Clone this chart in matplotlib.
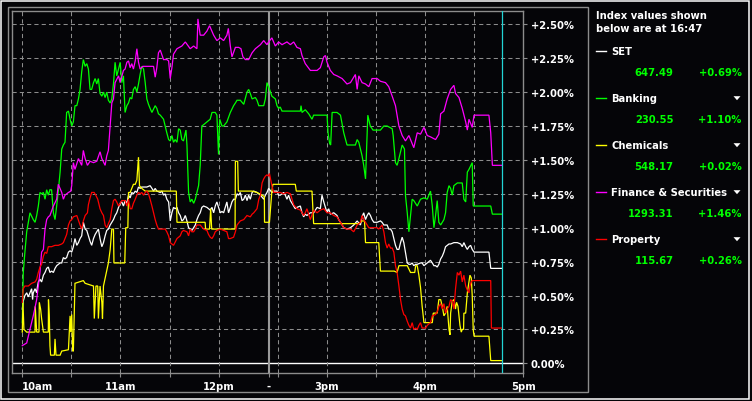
import matplotlib
matplotlib.use("Agg")
import matplotlib.pyplot as plt
from matplotlib.patches import Rectangle, Polygon
from matplotlib.lines import Line2D

# ---------------- data ----------------
# times: AM = minutes after 10:00, PM = minutes after 14:30 ; values = % change
SET_AM = [(0,0.40),(0.6,0.46),(1.6,0.50),(2.7,0.52),(3.7,0.49),(4.7,0.52),(5.7,0.55),(6.3,0.47),(6.7,0.52),(7.8,0.55),
          (8.8,0.52),(9.2,0.56),(9.8,0.60),(10.8,0.62),(11.8,0.60),(12.9,0.65),(13.9,0.67),(14.9,0.70),(15.9,0.71),(16.9,0.67),
          (17.9,0.68),(19,0.67),(20,0.70),(21,0.72),(22,0.73),(23.1,0.74),(24.1,0.74),(25.1,0.78),(26.1,0.77),(27.1,0.78),
          (28.2,0.82),(29.2,0.83),(30.2,0.82),(31.2,0.86),(32.2,0.92),(33.3,0.87),(34.3,0.89),(35.3,0.92),(36.3,0.94),(37.3,1.04),
          (38.4,0.99),(39.4,0.98),(40.4,0.94),(41.4,0.90),(42.4,0.87),(43.5,0.92),(44.5,0.95),(45.5,0.97),(46.5,0.99),(47.5,0.92),
          (48.6,0.86),(49.6,0.89),(50.6,0.94),(51.6,0.98),(52.6,0.99),(53.7,1.02),(54.7,1.04),(55.7,1.06),(56.7,1.09),(57.7,1.11),
          (58.8,1.15),(59.8,1.18),(60.8,1.19),(61.8,1.16),(62.8,1.20),(63.9,1.18),(64.9,1.24),(65.9,1.22),(66.9,1.26),(67.9,1.25),
          (69,1.27),(70,1.26),(71,1.30),(72,1.29),(73,1.30),(76.1,1.30),(78.1,1.31),(79.2,1.29),(80.2,1.27),(81.2,1.29),
          (82.2,1.27),(84.3,1.26),(85.3,1.27),(86.3,1.24),(87.3,1.25),(88.3,1.21),(89.4,1.19),(90.4,1.05),(91.4,1.11),(92.4,1.15),
          (93.4,1.14),(94.5,1.15),(95.5,1.11),(96.5,1.09),(97.5,1.05),(98.5,1.06),(99.6,1.09),(100.6,1.05),(101.6,1.00),(102.6,0.99),
          (103.6,0.98),(104.7,1.00),(105.7,1.02),(106.7,1.06),(107.7,1.09),(108.7,1.11),(109.7,1.15),(110.8,1.16),(112.8,1.15),(113.8,1.14),
          (114.8,1.13),(115.9,1.15),(116.9,1.11),(117.9,1.16),(118.9,1.19),(119.9,1.15),(121,1.11),(122,1.12),(123,1.11),(124,1.15),
          (125,1.19),(126,1.11),(127.1,1.15),(128.1,1.19),(129.1,1.21),(130.2,1.21),(131.2,1.25),(132.2,1.24),(133.2,1.26),(134.3,1.20),
          (135.3,1.21),(136.3,1.24),(137.3,1.20),(138.3,1.24),(139.3,1.21),(140.4,1.26),(141.4,1.27),(143.4,1.26),(145.5,1.24),(147.5,1.21),
          (148.5,1.24),(149.5,1.26),(150.5,1.29)]
SET_PM = [(-3.5,1.26),(-2.4,1.27),(-0.4,1.27),(0.6,1.24),(1.6,1.24),(3.7,1.26),(4.7,1.24),(5.7,1.21),(6.7,1.24),(7.8,1.20),
          (8.8,1.18),(9.8,1.16),(10.8,1.14),(11.8,1.15),(13.9,1.16),(14.9,1.11),(15.9,1.08),(16.9,1.10),(17.9,1.09),(20,1.11),
          (22,1.11),(24.1,1.15),(26.1,1.14),(27.1,1.24),(28.2,1.19),(29.2,1.15),(30.2,1.11),(31.2,1.14),(32.2,1.10),(34.3,1.11),
          (36.3,1.09),(37.3,1.06),(38.4,1.04),(39.4,1.02),(40.4,1.00),(42.4,0.99),(44.5,1.00),(46.5,1.02),(48.6,1.05),(50.6,1.02),
          (51.6,1.08),(52.6,1.11),(53.7,1.06),(54.7,1.09),(55.7,1.11),(56.7,1.09),(57.7,1.06),(58.8,1.04),(60.8,1.04),(62.8,1.05),
          (63.8,1.04),(64.9,1.02),(66.9,1.02),(67.9,0.99),(69,0.99),(70,0.97),(71,0.92),(72,0.87),(73,0.84),(74.1,0.84),
          (75.1,0.89),(76.1,0.93),(77.1,0.89),(78.1,0.82),(79.2,0.74),(80.2,0.73),(81.2,0.73),(82.2,0.74),(83.2,0.72),(84.3,0.73),
          (85.3,0.73),(87.3,0.74),(88.3,0.74),(89.4,0.72),(90.4,0.73),(91.4,0.74),(93.4,0.76),(94.5,0.74),(95.5,0.72),(96.5,0.72),
          (97.5,0.71),(98.5,0.73),(99.6,0.77),(100.6,0.79),(101.6,0.82),(102.6,0.86),(103.6,0.87),(104.7,0.88),(105.7,0.88),(107.7,0.89),
          (109.8,0.89),(111.8,0.88),(112.8,0.86),(113.8,0.89),(114.9,0.86),(115.9,0.84),(116.9,0.86),(117.9,0.87),(118.9,0.84),(120,0.82),
          (129.1,0.82),(130.2,0.70),(136.9,0.70)]

BANK_AM = [(0,0.30),(0.6,0.67),(1.6,0.82),(2.7,0.97),(4.7,1.11),(6.7,1.06),(7.8,1.04),(8.8,1.09),(9.8,1.16),(10.8,1.26),
           (11.8,1.25),(12.9,1.26),(13.9,1.21),(14.9,1.28),(15.9,1.24),(16.9,1.28),(17.9,1.28),(19,1.11),(20,1.06),(21,1.16),
           (22,1.27),(23.1,1.41),(24.1,1.58),(25.1,1.61),(26.1,1.63),(27.1,1.85),(28.2,1.86),(29.2,1.80),(30.2,1.75),(31.2,1.78),
           (32.2,1.90),(33.3,1.90),(34.3,1.95),(35.3,2.02),(36.3,2.15),(37.3,2.24),(38.4,2.19),(39.4,2.21),(40.4,2.17),(41.4,2.02),
           (42.4,2.02),(43.5,2.07),(44.5,2.10),(45.5,2.06),(46.5,2.10),(47.5,1.99),(48.6,1.97),(49.6,2.00),(50.6,1.96),(51.6,2.00),
           (52.6,1.94),(53.7,1.92),(54.7,1.95),(55.7,2.06),(56.7,2.22),(57.7,2.12),(58.8,2.17),(59.8,2.22),(60.8,2.07),(61.8,2.12),
           (62.8,1.85),(63.9,1.90),(64.9,1.92),(65.9,1.96),(66.9,1.95),(67.9,2.02),(69,2.04),(70,2.00),(71,2.06),(72,2.13),
           (73,2.19),(74.1,2.17),(75.1,2.07),(76.1,1.95),(77.1,1.91),(78.1,1.88),(79.2,1.85),(81.2,1.90),(82.2,1.88),(83.2,1.84),
           (84.3,1.83),(86.3,1.80),(87.3,1.75),(88.3,1.70),(89.4,1.65),(90.4,1.64),(91.4,1.68),(92.4,1.63),(93.4,1.65),(94.5,1.63),
           (95.5,1.73),(96.5,1.72),(97.5,1.65),(98.5,1.64),(100,1.72),(100.6,1.61),(101.6,1.26),(102.6,1.19),(103.6,1.21),(104.7,1.18),
           (105.7,1.21),(106.7,1.26),(107.7,1.31),(108.7,1.46),(109.7,1.75),(110.8,1.76),(112.8,1.78),(114.8,1.80),(115.9,1.85),(117.9,1.85),
           (118.9,1.83),(119.9,1.54),(120.6,1.80),(122,1.75),(123,1.75),(125,1.78),(127.1,1.85),(129.1,1.90),(130.2,1.92),(131.2,1.94),
           (133.2,1.94),(135.3,1.91),(137.3,2.00),(138.3,2.02),(139.3,1.99),(140.4,1.95),(142.4,1.96),(143.4,1.94),(144.5,1.90),(147.5,1.90),
           (148.5,1.95),(149.5,2.07),(150.5,2.04)]
BANK_PM = [(-3.5,1.97),(-1.4,1.95),(-0.4,1.90),(0.6,1.88),(1.6,1.89),(2.7,1.86),(13.9,1.86),(14.3,1.90),(14.9,1.85),(16.9,1.87),
           (19,1.84),(21,1.80),(22,1.83),(30.2,1.83),(30.8,1.70),(31.8,1.62),(32.4,1.61),(33.3,1.85),(36.3,1.85),(38.4,1.83),
           (40.4,1.70),(42.4,1.61),(47.5,1.61),(48.6,1.65),(49.6,1.63),(50.6,1.58),(51.6,1.53),(52.6,1.46),(53.7,1.36),(54.3,1.56),
           (55.1,1.83),(56.6,1.75),(58.3,1.72),(62.8,1.72),(64.9,1.75),(66.9,1.75),(70,1.73),(70.6,1.68),(72,1.48),(73,1.46),
           (74.1,1.51),(76.1,1.61),(77.5,1.58),(78.1,1.24),(79.2,1.11),(80.2,0.97),(81.2,1.09),(82.2,1.21),(83.2,1.20),(85.3,1.16),
           (87.3,1.21),(89.4,1.22),(91.4,1.21),(93.4,1.27),(94.5,1.16),(95.5,1.00),(96.5,1.09),(97.5,1.20),(98.5,1.04),(99.6,1.02),
           (101.6,1.06),(102.6,1.11),(103.6,1.26),(104.7,1.31),(105.7,1.29),(106.7,1.24),(107.7,1.31),(109.8,1.33),(112.8,1.33),(113.8,1.21),
           (114.9,1.19),(115.9,1.41),(116.9,1.43),(118.9,1.48),(119.5,1.16),(130.2,1.16),(131.2,1.10),(136.9,1.10)]

CHEM_AM = [(0,0.23),(0.4,0.45),(1.0,0.25),(2.7,0.23),(7.8,0.23),(7.9,0.42),(8.8,0.23),(10.2,0.23),(10.4,0.45),(11.2,0.40),
           (11.8,0.33),(12.9,0.23),(15.9,0.23),(16.0,0.47),(16.5,0.35),(16.9,0.13),(17.3,0.06),(19.6,0.06),(20,0.18),(20.6,0.06),
           (23.1,0.06),(24.1,0.09),(28.2,0.10),(29.2,0.35),(29.6,0.23),(30.2,0.36),(30.8,0.09),(31.2,0.09),(32.2,0.59),(37.3,0.61),
           (38.4,0.59),(43.5,0.57),(44,0.33),(44.5,0.45),(45,0.57),(46.1,0.57),(46.5,0.33),(47.5,0.57),(48.6,0.45),(49,0.33),
           (49.6,0.57),(52.6,0.74),(53.7,0.84),(54.7,0.99),(55.7,0.99),(56,0.74),(62.6,0.74),(63.2,1.00),(64.5,1.00),(64.9,1.26),
           (65.9,1.26),(67.9,1.32),(69,1.32),(70,1.35),(71,1.52),(71.6,1.31),(73,1.29),(75.1,1.27),(94.1,1.27),(94.5,1.04),
           (111.7,1.04),(112,0.99),(114.4,0.99),(115.1,1.14),(115.7,0.99),(130,0.99),(130.2,1.49),(131.6,1.49),(132,1.27),(140.4,1.27),
           (143.4,1.26),(146.5,1.24),(147.9,1.23),(148,1.04),(150.5,1.04)]
CHEM_PM = [(-5,1.04),(-3.5,1.27),(-2.9,1.32),(10.8,1.32),(11.4,1.27),(21,1.27),(22,1.03),(49.6,1.03),(51.6,1.05),(53.1,1.05),
           (53.7,0.89),(61.8,0.89),(62.8,0.68),(71.2,0.68),(73,0.67),(74.1,0.72),(79.2,0.72),(81.2,0.67),(83.8,0.67),(84.3,0.72),
           (85.3,0.72),(86.3,0.65),(87.3,0.56),(88.3,0.42),(89.4,0.30),(94.5,0.30),(95.1,0.37),(97.5,0.37),(98.5,0.47),(99.6,0.47),
           (100.6,0.42),(101.6,0.35),(102.6,0.37),(103.6,0.42),(104.7,0.25),(105.3,0.21),(105.7,0.37),(106.7,0.46),(107.7,0.47),(108.7,0.40),
           (109.3,0.45),(110.2,0.42),(111.4,0.28),(112.2,0.23),(112.8,0.25),(113.6,0.25),(113.8,0.37),(114.9,0.37),(115.9,0.52),(116.9,0.60),
           (117.5,0.65),(118.3,0.63),(118.9,0.50),(119.5,0.25),(120,0.20),(129.1,0.20),(130.2,0.02),(136.9,0.02)]

FIN_AM = [(0,0.13),(2.7,0.15),(4.7,0.25),(6.7,0.35),(8.8,0.47),(10.8,0.67),(11.8,0.82),(12.9,0.84),(13.9,0.99),(14.9,1.06),
          (15.9,1.08),(16.9,1.09),(19,1.16),(21,1.21),(22,1.32),(24.1,1.26),(25.1,1.21),(26.1,1.24),(28.2,1.26),(29.6,1.27),
          (30.2,1.31),(31.2,1.48),(32.2,1.43),(34.3,1.51),(36.3,1.46),(37.3,1.57),(38.4,1.51),(39.8,1.46),(41.4,1.49),(43.5,1.48),
          (45.5,1.49),(47.5,1.56),(48.6,1.51),(50.6,1.46),(51.6,1.53),(52.6,1.57),(53.7,1.75),(54.7,1.92),(55.7,1.95),(56.7,2.07),
          (58.8,2.12),(59.8,2.07),(61.8,2.16),(62.8,2.17),(63.9,2.22),(64.9,2.23),(65.9,2.18),(66.9,2.21),(67.9,2.17),(69,2.23),
          (70,2.32),(71,2.22),(72,2.17),(73.6,2.19),(76.1,2.19),(80.2,2.19),(81.2,2.11),(82.2,2.18),(83.2,2.29),(84.3,2.31),
          (86.3,2.24),(88.3,2.24),(89.4,2.23),(90.4,2.10),(91.4,2.18),(92.4,2.28),(94.5,2.32),(97.5,2.34),(99.6,2.37),(102.6,2.32),
          (104.7,2.34),(106.7,2.32),(107.3,2.54),(108.7,2.42),(110.8,2.42),(112.8,2.45),(114.4,2.49),(116.9,2.42),(118.9,2.38),(121,2.40),
          (123,2.38),(125,2.42),(125.9,2.47),(127.1,2.34),(128.1,2.26),(130.2,2.33),(132.2,2.33),(133.6,2.32),(134.8,2.26),(136.3,2.24),
          (138.3,2.24),(140.4,2.29),(142.4,2.32),(145.5,2.35),(147.5,2.38),(149.5,2.35),(150.5,2.37)]
FIN_PM = [(-3.5,2.40),(-1.4,2.34),(0.6,2.37),(2.7,2.35),(5.7,2.37),(7.8,2.35),(9.8,2.37),(11.8,2.33),(13.9,2.32),(14.9,2.27),
          (16.9,2.21),(20,2.16),(24.1,2.16),(26.1,2.18),(28.2,2.26),(29.2,2.27),(30.2,2.22),(32.2,2.16),(34.3,2.13),(36.3,2.12),
          (39.4,2.10),(42.4,2.06),(44.5,2.07),(46.5,2.11),(47.5,2.13),(48.6,2.02),(49.6,2.12),(51.6,2.07),(53.7,2.06),(55.7,2.04),
          (57.7,2.10),(60.8,2.10),(62.8,2.08),(65.9,2.07),(67.9,2.04),(70,1.97),(72,1.90),(74.1,1.75),(76.1,1.68),(78.1,1.64),
          (80.2,1.68),(82.2,1.62),(83.2,1.59),(85.3,1.70),(87.3,1.69),(89.4,1.74),(91.4,1.68),(93.4,1.67),(96.5,1.65),(98.5,1.69),
          (99.6,1.84),(101.6,1.86),(103.6,1.95),(105.7,2.02),(107.7,2.05),(108.7,1.99),(110.8,1.96),(112.8,1.88),(114.9,1.78),(115.9,1.72),
          (116.9,1.80),(118.9,1.74),(120,1.83),(124,1.83),(129.1,1.83),(130.2,1.70),(131.2,1.46),(136.9,1.46)]

PROP_AM = [(0,0.45),(0.6,0.55),(1.6,0.57),(3.7,0.57),(5.7,0.59),(7.8,0.60),(8.8,0.62),(9.8,0.67),(10.8,0.71),(11.8,0.73),
           (12.9,0.79),(13.9,0.82),(14.9,0.81),(15.9,0.86),(17.9,0.86),(20,0.87),(22,0.87),(24.1,0.88),(25.1,0.89),(26.1,0.92),
           (27.1,0.95),(28.2,1.02),(29.2,1.05),(30.2,1.06),(31.2,1.08),(33.3,1.09),(35.3,1.02),(36.3,0.99),(37.3,1.05),(38.4,1.09),
           (39.8,1.11),(40.4,1.17),(41.4,1.22),(42.4,1.26),(43.9,1.26),(44.9,1.24),(46.1,1.21),(47.5,1.14),(48.6,1.11),(49.6,1.09),
           (50.6,1.02),(51.6,1.00),(52.6,1.03),(53.7,1.06),(54.7,1.14),(55.7,1.20),(56.7,1.21),(57.7,1.19),(58.8,1.16),(60.8,1.20),
           (62.8,1.20),(63.9,1.16),(64.9,1.21),(65.9,1.14),(66.9,1.14),(67.9,1.18),(69,1.21),(70,1.24),(71,1.26),(72,1.25),
           (73,1.26),(74.1,1.24),(75.1,1.26),(76.1,1.27),(77.1,1.25),(78.1,1.21),(79.2,1.16),(80.2,1.11),(81.2,1.06),(82.2,1.02),
           (83.2,0.99),(87.3,0.99),(88.3,0.97),(89.4,0.94),(90.4,0.89),(91.4,0.88),(92.4,0.87),(94.5,0.92),(96.5,0.94),(97.5,0.97),
           (98.5,0.98),(100.6,0.97),(101.6,0.94),(102.6,0.99),(103.6,0.97),(104.7,0.97),(105.7,0.99),(106.7,1.02),(108.7,1.02),(110.8,0.99),
           (112.8,0.98),(113.8,0.95),(114.8,0.93),(115.9,0.92),(116.9,0.94),(117.9,0.97),(118.9,0.98),(121,0.99),(123,0.98),(125,0.97),
           (126,0.92),(127.1,0.92),(129.1,0.93),(130.2,0.97),(131.2,1.02),(133.2,1.05),(135.3,1.06),(137.3,1.09),(139.3,1.08),(140.4,1.10),
           (141.4,1.11),(143.4,1.14),(144.5,1.21),(145.5,1.24),(146.5,1.33),(147.5,1.36),(148.5,1.38),(149.5,1.39),(150.5,1.38)]
PROP_PM = [(-5,1.40),(-3.5,1.31),(-2.4,1.26),(1.6,1.26),(3.7,1.25),(5.7,1.26),(7.8,1.25),(8.8,1.21),(9.8,1.17),(11.8,1.14),
           (13.9,1.13),(15.9,1.09),(16.9,1.11),(17.9,1.14),(20,1.06),(22,1.13),(24.1,1.11),(26.1,1.13),(28.2,1.14),(30.2,1.11),
           (32.2,1.11),(34.3,1.09),(36.3,1.08),(37.3,1.06),(38.4,1.04),(40.4,1.00),(42.4,0.99),(44.5,0.99),(46.5,0.97),(48.6,1.02),
           (50.6,1.04),(51.6,1.09),(52.6,1.06),(53.7,1.04),(54.7,1.02),(55.7,1.00),(57.7,1.00),(60.8,1.00),(61.8,0.99),(63.8,1.02),
           (64.9,0.97),(65.9,0.89),(66.9,0.85),(67.9,0.88),(69,0.85),(70,0.85),(71,0.82),(72,0.72),(73,0.67),(74.1,0.57),
           (75.1,0.47),(76.1,0.40),(77.1,0.36),(78.1,0.35),(79.2,0.31),(80.2,0.28),(81.2,0.26),(82.2,0.30),(83.2,0.25),(84.3,0.26),
           (85.3,0.25),(86.3,0.28),(87.3,0.30),(88.3,0.26),(90.4,0.26),(91.4,0.28),(93.4,0.30),(94.5,0.35),(96.5,0.36),(97.5,0.38),
           (98.5,0.42),(99.6,0.44),(100.6,0.40),(101.6,0.44),(102.6,0.37),(103.6,0.40),(104.7,0.42),(105.7,0.47),(106.7,0.46),(107.7,0.40),
           (108.7,0.55),(109.8,0.67),(110.8,0.65),(111.8,0.68),(112.8,0.60),(113.8,0.65),(114.9,0.57),(115.9,0.54),(116.9,0.52),(117.5,0.57),
           (118.3,0.60),(118.9,0.61),(130.2,0.61),(130.6,0.26),(136.9,0.26)]

SERIES_NAMES = ["SET", "Banking", "Chemicals", "Finance & Securities", "Property"]
SERIES_COLORS = ["#ffffff", "#00ff00", "#ffff00", "#ff00ff", "#ff0000"]
INDEX_VALUES = ["647.49", "230.55", "548.17", "1293.31", "115.67"]
PCT_CHANGES = ["+0.69%", "+1.10%", "+0.02%", "+1.46%", "+0.26%"]
HAS_ARROW = [False, True, True, True, True]
AS_OF = "16:47"
AS_OF_PM_MIN = 137          # 16:47 as minutes after 14:30

Y_TICKS = [0.0, 0.25, 0.5, 0.75, 1.0, 1.25, 1.5, 1.75, 2.0, 2.25, 2.5]
X_LABELS = ["10am", "11am", "12pm", "-", "3pm", "4pm", "5pm"]

# ---------------- layout helpers ----------------
W, H = 752, 402
BG = "#050508"
GRAY = "#8c8c8c"
FONT = dict(family="DejaVu Sans", weight="bold", size=7.2)
AM_LEN = 150.6          # break position (end of morning session)
PM_OFF = 156.0          # axis position of 14:30


def fx(x):
    return x / W


def fy(y):
    return 1 - y / H


def am_pos(t):
    return t


def pm_pos(t):
    return PM_OFF + t


fig = plt.figure(figsize=(W / 100, H / 100), dpi=100, facecolor=BG)

# outer frames
fig.add_artist(Rectangle((fx(1.5), fy(399.5)), fx(749.3 - 1.5), (399.5 - 1.5) / H,
                         transform=fig.transFigure, fill=False, ec="white", lw=1.1))
fig.add_artist(Rectangle((fx(7.8), fy(392.7)), fx(588 - 7.8), (392.7 - 7.8) / H,
                         transform=fig.transFigure, fill=False, ec=GRAY, lw=1.0))

ax = fig.add_axes([fx(12.3), fy(374), (523.3 - 12.3) / W, (374 - 12.3) / H])
ax.set_facecolor(BG)
ax.set_xlim(-6.1, 306.1)
ax.set_ylim(-0.0715, 2.596)

for s in ax.spines.values():
    s.set_color(GRAY)
    s.set_linewidth(1.0)

# grid
for yv in Y_TICKS[1:]:
    ax.axhline(yv, color=GRAY, lw=0.75, ls=(0, (4, 3)), zorder=1)
ax.axhline(0, color="white", lw=1.0, zorder=1)
grid_x = [am_pos(0), am_pos(30), am_pos(60), am_pos(90), am_pos(120), am_pos(150),
          pm_pos(0), pm_pos(30), pm_pos(60), pm_pos(90), pm_pos(120)]
for xv in grid_x:
    ax.axvline(xv, color=GRAY, lw=0.75, ls=(0, (4, 3)), zorder=1)
# session break
ax.axvline(AM_LEN, color="#9a9a9a", lw=1.5, zorder=2)

# series
series = [(SET_AM, SET_PM), (BANK_AM, BANK_PM), (CHEM_AM, CHEM_PM), (FIN_AM, FIN_PM), (PROP_AM, PROP_PM)]
draw_order = [1, 3, 2, 4, 0]
for i in draw_order:
    am, pm = series[i]
    xs = [am_pos(t) for t, _ in am] + [pm_pos(t) for t, _ in pm]
    ys = [v for _, v in am] + [v for _, v in pm]
    ax.plot(xs, ys, color=SERIES_COLORS[i], lw=0.9, zorder=3 + i, solid_joinstyle="miter")

# current time line
ax.axvline(pm_pos(AS_OF_PM_MIN), color="#22d4d4", lw=0.9, zorder=9)

# ticks
ax.yaxis.tick_right()
ax.set_yticks(Y_TICKS)
ax.set_yticklabels([("+%.2f%%" % v) if v > 0 else "%.2f%%" % v for v in Y_TICKS], **FONT, color="white")
ax.tick_params(axis="y", direction="out", length=3, width=0.8, color=GRAY, pad=2.5)

xt = [am_pos(0), am_pos(60), am_pos(120), AM_LEN, pm_pos(30), pm_pos(90), pm_pos(150)]
ax.set_xticks(xt)
labs = ax.set_xticklabels(X_LABELS, **FONT, color="white")
labs[0].set_ha("left")
ax.set_xticks([am_pos(30), am_pos(90), pm_pos(0), pm_pos(60), pm_pos(120)], minor=True)
ax.tick_params(axis="x", which="both", direction="out", length=3, width=0.8, color=GRAY, pad=2.5)

# ---------------- legend panel ----------------
fig.text(fx(596), fy(16), "Index values shown", color="white", va="center", ha="left", **FONT)
fig.text(fx(596), fy(29), "below are at " + AS_OF, color="white", va="center", ha="left", **FONT)
for k, name in enumerate(SERIES_NAMES):
    yn = 51.7 + 47 * k
    yv = 72.7 + 47 * k
    fig.add_artist(Line2D([fx(596), fx(606)], [fy(yn), fy(yn)], color=SERIES_COLORS[k],
                          lw=1.0, transform=fig.transFigure))
    fig.text(fx(611), fy(yn), name, color="white", va="center", ha="left", **FONT)
    fig.text(fx(673.5), fy(yv), INDEX_VALUES[k], color="#00ff00", va="center", ha="right", **FONT)
    fig.text(fx(741.5), fy(yv), PCT_CHANGES[k], color="#00ff00", va="center", ha="right", **FONT)
    if HAS_ARROW[k]:
        fig.add_artist(Polygon([(fx(733.5), fy(yn - 1.5)), (fx(740.5), fy(yn - 1.5)), (fx(737), fy(yn + 2.5))],
                               closed=True, fc="white", ec="none", transform=fig.transFigure))

fig.savefig("out.png", dpi=100, facecolor=BG)
